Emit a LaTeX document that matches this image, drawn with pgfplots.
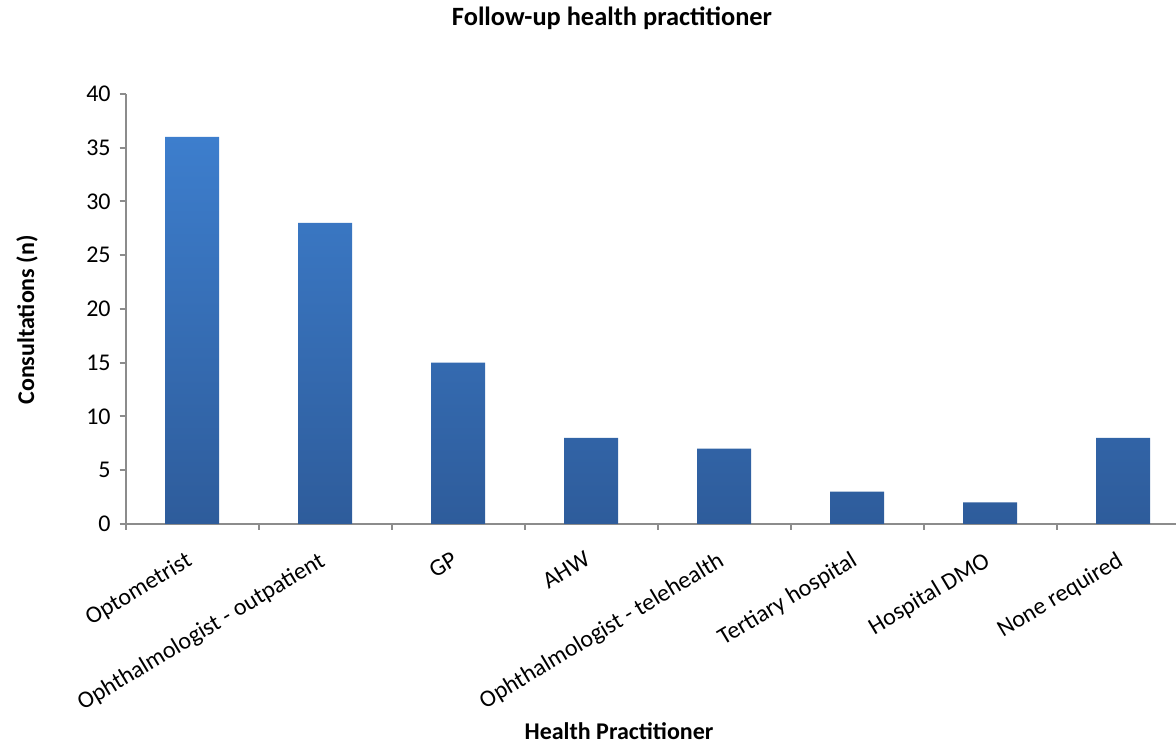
\documentclass[border=0pt]{standalone}
\usepackage{pgfplots}
\pgfplotsset{compat=1.18}
\usepackage{fontspec}
\setmainfont{Carlito}
\definecolor{bartop}{HTML}{3D7ECD}
\definecolor{barbot}{HTML}{2E5C9B}
\definecolor{axgray}{HTML}{8C8C8C}
\begin{document}
\begin{tikzpicture}
\begin{axis}[
  at={(62.85pt,109.5pt)}, anchor=south west,
  scale only axis, width=525.15pt, height=215pt,
  xmin=-0.5, xmax=7.397, ymin=0, ymax=40,
  axis x line*=bottom, axis y line*=left,
  axis line style={axgray, line width=1pt, -},
  ytick={0,5,...,40},
  xtick={0,...,7},
  xticklabels={Optometrist, Ophthalmologist - outpatient, GP, AHW, Ophthalmologist - telehealth, Tertiary hospital, Hospital DMO, None required},
  minor xtick={-0.5,0.5,...,7.5},
  tick align=outside, major tick length=3pt, minor tick length=3pt,
  major x tick style={draw=none},
  tick style={axgray, line width=1pt},
  /pgf/number format/assume math mode=true,
  ticklabel style={font=\fontsize{12}{14}\selectfont, text=black},
  xticklabel style={xshift=-3.7pt, yshift=-10pt, rotate=31, anchor=north east, inner sep=0pt},
  yticklabel style={xshift=-1pt},
  clip=false,
]
\addplot[ybar, bar width=27pt, draw=none, top color=bartop, bottom color=barbot]
  coordinates {(0,36) (1,28) (2,15) (3,8) (4,7) (5,3) (6,2) (7,8)};
\end{axis}
\node[font=\fontsize{13.2}{15}\selectfont\bfseries] at (306pt,362.5pt) {Follow-up health practitioner};
\node[font=\fontsize{12}{14}\selectfont\bfseries, rotate=90] at (13.5pt,211.5pt) {Consultations (n)};
\node[font=\fontsize{12}{14}\selectfont\bfseries] at (309.5pt,6pt) {Health Practitioner};
\pgfresetboundingbox
\path[use as bounding box] (0,0) rectangle (588pt,371.5pt);
\end{tikzpicture}
\end{document}
